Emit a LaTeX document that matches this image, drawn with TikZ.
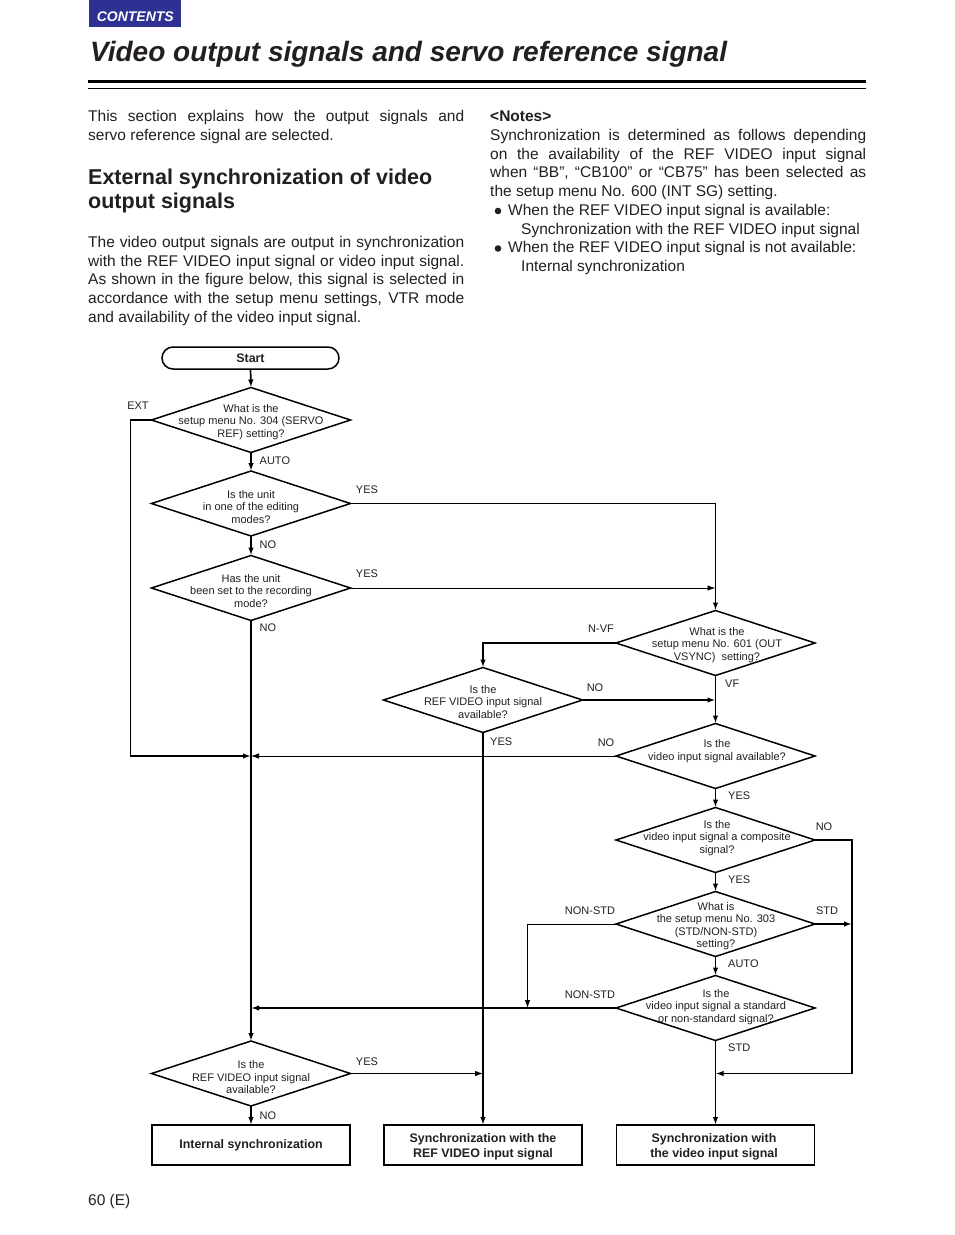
\documentclass[tikz,border=0pt]{standalone}
\usepackage{fontspec}
\setmainfont{Liberation Sans}
\usetikzlibrary{shapes.geometric,arrows.meta}
\definecolor{txt}{HTML}{231F20}
\definecolor{cblue}{HTML}{2E3192}
\begin{document}
\begin{tikzpicture}[x=1pt,y=-1pt,
  dia/.style={shape=diamond, draw, line width=1.5pt, minimum width=199pt, minimum height=65pt, inner sep=0pt, outer sep=0pt},
  dtext/.style={align=center, font=\fontsize{11}{12.5}\selectfont, text=txt, inner sep=0pt, yshift=-1.5pt},
  lbl/.style={font=\fontsize{11}{13}\selectfont, text=txt, inner sep=0pt, yshift=-1pt},
  endbox/.style={draw, line width=1.5pt, minimum width=198pt, minimum height=40pt, align=center, font=\bfseries\fontsize{12.4}{15}\selectfont, text=txt, inner sep=0pt, outer sep=0pt},
  startbox/.style={draw, line width=1.5pt, rounded corners=11pt, minimum width=177pt, minimum height=22pt, font=\bfseries\fontsize{12.4}{15}\selectfont, text=txt, inner sep=0pt, outer sep=0pt},
  arr/.style={-{Latex[length=8pt,width=5.5pt]}},
  ln/.style={line width=1.7pt},
  tn/.style={line width=0.9pt},
  body/.style={anchor=base west, inner sep=0pt, text=txt}
]
\fill[white] (0,0) rectangle (954,1235);
\useasboundingbox (0,0) rectangle (954,1235);

% header
\node[fill=cblue, minimum width=92.5pt, minimum height=27pt, anchor=north west, inner sep=0pt] (cont) at (88.3,0) {};
\node[text=white, inner sep=0pt, font=\bfseries\itshape\fontsize{14}{14}\selectfont] (contt) at (135.3,17) {CONTENTS};
\node[body, font=\bfseries\itshape\fontsize{28}{30}\selectfont] (title) at (90,61.5) {Video output signals and servo reference signal};
\draw[line width=3.3pt] (88,81.7) -- (866,81.7);
\draw[line width=1.3pt] (88,88.3) -- (866,88.3);

% body text left
\node[body] (p1) at (88,121.5) {\parbox[t]{376pt}{\fontsize{15.5}{18.75}\selectfont This section explains how the output signals and\linebreak servo reference signal are selected.}};
\node[body] (h1) at (88,184.5) {\parbox[t]{376pt}{\bfseries\fontsize{21.5}{24}\selectfont External synchronization of video\\ output signals}};
\node[body] (p2) at (88,247.3) {\parbox[t]{376pt}{\fontsize{15.5}{18.75}\selectfont The video output signals are output in synchronization\linebreak with the REF VIDEO input signal or video input signal.\linebreak As shown in the figure below, this signal is selected in\linebreak accordance with the setup menu settings, VTR mode\linebreak and availability of the video input signal.}};

% body text right
\node[body] (p3) at (490,121.5) {\parbox[t]{376pt}{\fontsize{15.5}{18.75}\selectfont {\bfseries <Notes>}\par
Synchronization is determined as follows depending\linebreak on the availability of the REF VIDEO input signal\linebreak when “BB”, “CB100” or “CB75” has been selected as\linebreak the setup menu No. 600 (INT SG) setting.\par
\hspace*{18pt}When the REF VIDEO input signal is available:\\
\hspace*{31pt}Synchronization with the REF VIDEO input signal\\
\hspace*{18pt}When the REF VIDEO input signal is not available:\\
\hspace*{31pt}Internal synchronization}};
\fill[txt] (498,211) circle (3.3pt);
\fill[txt] (498,248.5) circle (3.3pt);

\node[anchor=west, inner sep=0pt, text=txt, font=\fontsize{15.5}{18}\selectfont] (pg) at (88,1201) {60 (E)};

% flowchart nodes
\node[startbox] (start) at (250.5,358) {Start};
\node[dia] (d1) at (251,420) {};
\node[dia] (d2) at (251,503.5) {};
\node[dia] (d3) at (251,588) {};
\node[dia] (d4) at (715.5,643) {};
\node[dia] (d5) at (483,700) {};
\node[dia] (d6) at (715.5,756) {};
\node[dia] (d7) at (715.5,840) {};
\node[dia] (d8) at (715.5,924) {};
\node[dia] (d9) at (715.5,1008) {};
\node[dia] (d10) at (251,1073.5) {};
\node[endbox] (b1) at (251,1145) {Internal synchronization};
\node[endbox] (b2) at (483,1145) {\rule{0pt}{12pt}Synchronization with the\\REF VIDEO input signal};
\node[endbox] (b3) at (715.5,1145) {\rule{0pt}{12pt}\hspace*{-3pt}Synchronization with\\\hspace*{-3pt}the video input signal};

\node[dtext] (t1) at (251,420.5) {What is the\\setup menu No. 304 (SERVO\\REF) setting?};
\node[dtext] (t2) at (251,505.5) {Is the unit\\in one of the editing\\modes?};
\node[dtext] (t3) at (251,589.5) {Has the unit\\been set to the recording\\mode?};
\node[dtext] (t4) at (717,643.5) {What is the\\setup menu No. 601 (OUT\\VSYNC)\ \ setting?};
\node[dtext] (t5) at (483,700.5) {Is the\\REF VIDEO input signal\\available?};
\node[dtext] (t6) at (717,749.5) {Is the\\video input signal available?};
\node[dtext] (t7) at (717,836.5) {Is the\\video input signal a composite\\signal?};
\node[dtext] (t8) at (716,924.5) {What is\\the setup menu No. 303\\(STD/NON-STD)\\setting?};
\node[dtext] (t9) at (716,1005.5) {Is the\\video input signal a standard\\or non-standard signal?};
\node[dtext] (t10) at (251,1076) {Is the\\REF VIDEO input signal\\available?};

% labels
\node[lbl] (lext) at (138,405) {EXT};
\node[lbl,anchor=west] (lauto1) at (259.5,460) {AUTO};
\node[lbl] (lyes1) at (367,489) {YES};
\node[lbl,anchor=west] (lno1) at (259.5,544) {NO};
\node[lbl] (lyes2) at (367,573) {YES};
\node[lbl,anchor=west] (lno2) at (259.5,627) {NO};
\node[lbl] (lnvf) at (601,628) {N-VF};
\node[lbl,anchor=west] (lvf) at (725,683) {VF};
\node[lbl] (lno3) at (595,687) {NO};
\node[lbl,anchor=west] (lyes3) at (490,741) {YES};
\node[lbl] (lno4) at (606,742) {NO};
\node[lbl,anchor=west] (lyes4) at (728,795) {YES};
\node[lbl] (lno5) at (824,826) {NO};
\node[lbl,anchor=west] (lyes5) at (728,879) {YES};
\node[lbl] (lns1) at (590,910) {NON-STD};
\node[lbl] (lstd1) at (827,910) {STD};
\node[lbl,anchor=west] (lauto2) at (728,963) {AUTO};
\node[lbl] (lns2) at (590,994) {NON-STD};
\node[lbl,anchor=west] (lstd2) at (728,1047) {STD};
\node[lbl] (lyes6) at (367,1061) {YES};
\node[lbl,anchor=west] (lno6) at (259.5,1115) {NO};

% junction coordinates
\coordinate (extc) at (130.5,756);
\coordinate (j1) at (251,756);
\coordinate (c2) at (715.5,503.5);
\coordinate (c3) at (715.5,588);
\coordinate (c5) at (715.5,700);
\coordinate (c7) at (852,1073.5);
\coordinate (c7b) at (715.5,1073.5);
\coordinate (c8) at (852,924);
\coordinate (c8b) at (527.5,1008);
\coordinate (c9) at (251,1008);
\coordinate (c10) at (483,1073.5);

% connectors
\draw[ln,arr] (start.south) -- (d1.north);
\draw[ln,arr] (d1.west) -| (extc) -- (j1);
\draw[ln,arr] (d1.south) -- (d2.north);
\draw[tn] (d2.east) -- (c2);
\draw[ln,arr] (c2) -- (d4.north);
\draw[ln,arr] (d2.south) -- (d3.north);
\draw[tn,arr] (d3.east) -- (c3);
\draw[ln,arr] (d3.south) -- (d10.north);
\draw[ln,arr] (d4.west) -| (d5.north);
\draw[ln,arr] (d4.south) -- (d6.north);
\draw[ln,arr] (d5.east) -- (c5);
\draw[ln,arr] (d5.south) -- (b2.north);
\draw[tn,arr] (d6.west) -- (j1);
\draw[ln,arr] (d6.south) -- (d7.north);
\draw[ln,arr] (d7.east) -| (c7) -- (c7b);
\draw[ln,arr] (d7.south) -- (d8.north);
\draw[ln,arr] (d8.east) -- (c8);
\draw[tn,arr] (d8.west) -| (c8b);
\draw[ln,arr] (d8.south) -- (d9.north);
\draw[ln,arr] (d9.west) -- (c9);
\draw[ln,arr] (d9.south) -- (b3.north);
\draw[tn,arr] (d10.east) -- (c10);
\draw[ln,arr] (d10.south) -- (b1.north);
\end{tikzpicture}
\end{document}
